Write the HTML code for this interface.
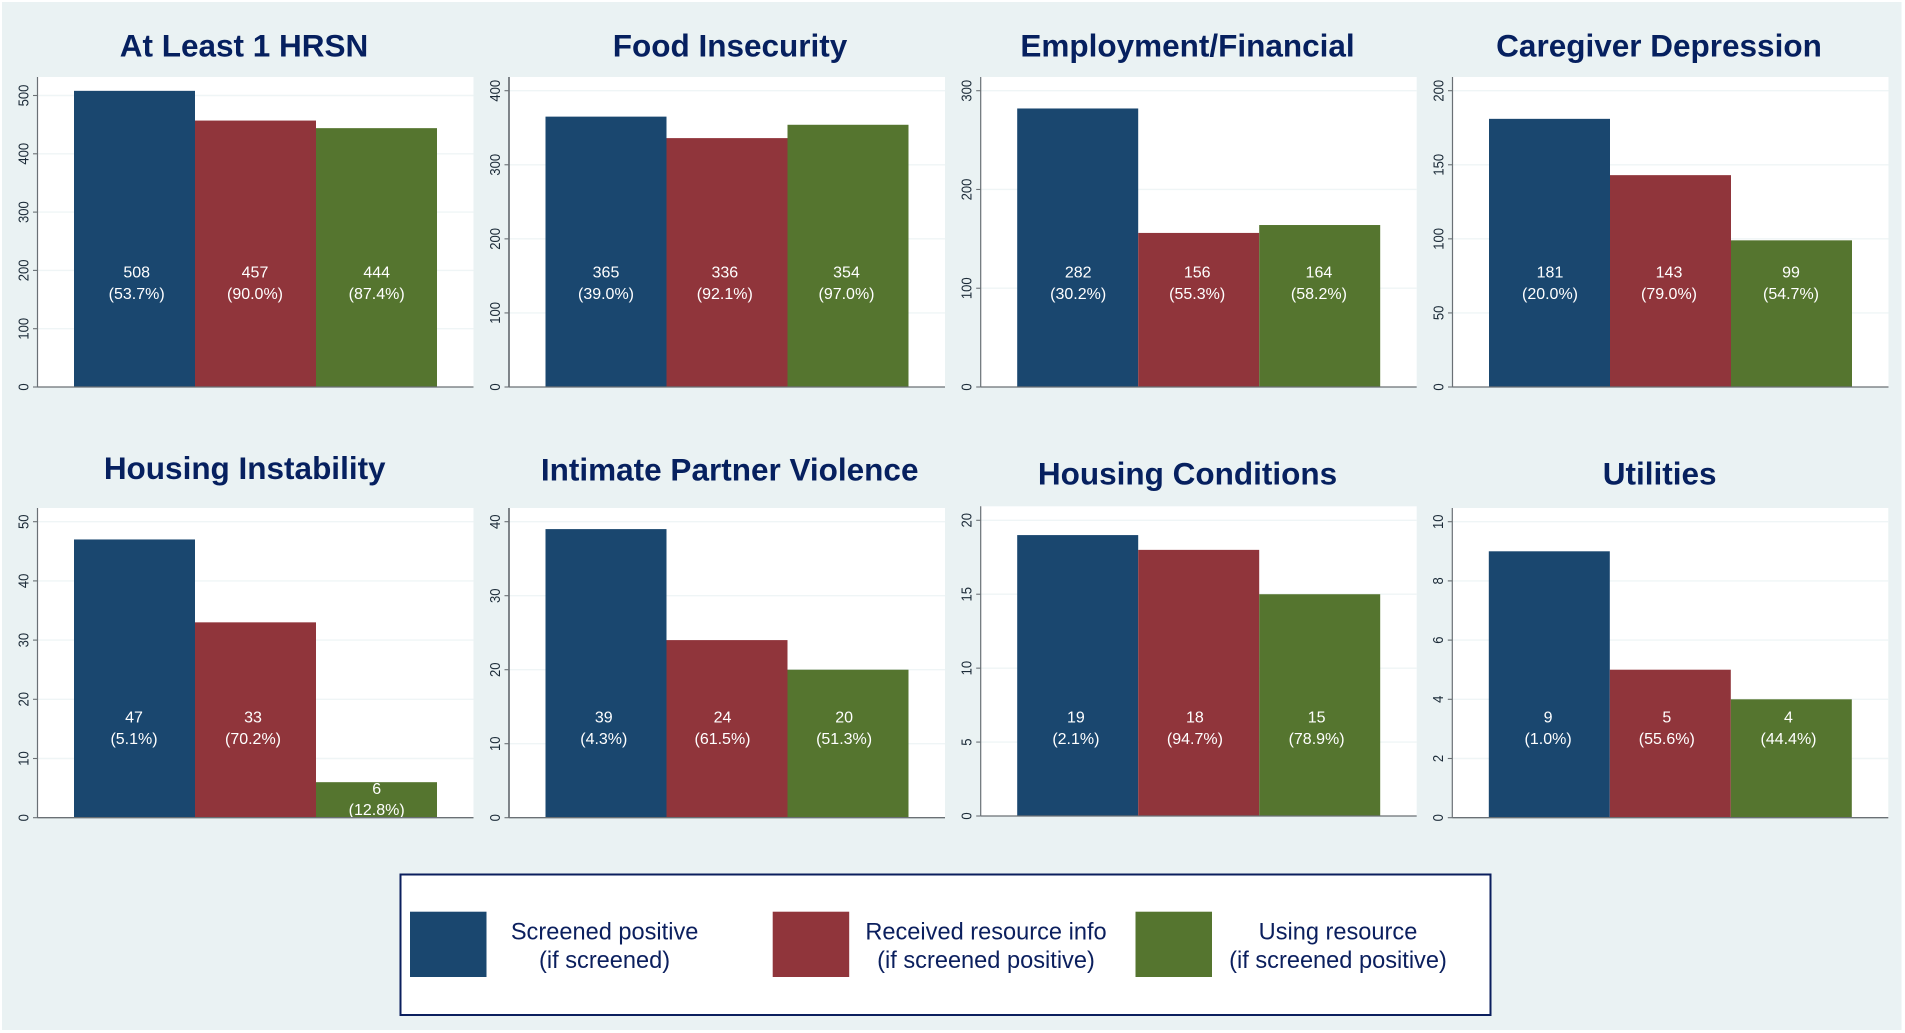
<!DOCTYPE html>
<html lang="en">
<head>
<meta charset="utf-8">
<title>Health-related social needs screening results</title>
<style>
html,body{margin:0;padding:0;background:#fff;width:1905px;height:1033px;overflow:hidden}
svg{display:block;font-family:"Liberation Sans",Arial,sans-serif}
</style>
</head>
<body>
<svg id="figure" width="1905" height="1033" viewBox="0 0 1905 1033" xmlns="http://www.w3.org/2000/svg">
  <rect x="2" y="2" width="1899.5" height="1028" fill="#eaf2f3"/>
  <g id="panels"></g>
  <g>
    <rect x="400.5" y="874.5" width="1090" height="140.5" fill="#fff" stroke="#0b1f5e" stroke-width="2"/>
    <g>
      <rect x="410" y="911.7" width="76.5" height="65.3" fill="#1a476f"/>
      <text text-anchor="middle" font-size="23.6" fill="#0b1f5e"><tspan x="604.6" y="939.3">Screened positive</tspan><tspan x="604.6" y="968">(if screened)</tspan></text>
    </g>
    <g>
      <rect x="772.7" y="911.7" width="76.5" height="65.3" fill="#90353b"/>
      <text text-anchor="middle" font-size="23.6" fill="#0b1f5e"><tspan x="986" y="939.3">Received resource info</tspan><tspan x="986" y="968">(if screened positive)</tspan></text>
    </g>
    <g>
      <rect x="1135.5" y="911.7" width="76.5" height="65.3" fill="#55752f"/>
      <text text-anchor="middle" font-size="23.6" fill="#0b1f5e"><tspan x="1338" y="939.3">Using resource</tspan><tspan x="1338" y="968">(if screened positive)</tspan></text>
    </g>
  </g>
</svg>
<script>
// ---- chart data ----
const panelTitles = ["At Least 1 HRSN", "Food Insecurity", "Employment/Financial", "Caregiver Depression", "Housing Instability", "Intimate Partner Violence", "Housing Conditions", "Utilities"];
const screenedPositive = [508, 365, 282, 181, 47, 39, 19, 9];
const receivedInfo = [457, 336, 156, 143, 33, 24, 18, 5];
const usingResource = [444, 354, 164, 99, 6, 20, 15, 4];
const screenedPct = ["53.7%", "39.0%", "30.2%", "20.0%", "5.1%", "4.3%", "2.1%", "1.0%"];
const receivedPct = ["90.0%", "92.1%", "55.3%", "79.0%", "70.2%", "61.5%", "94.7%", "55.6%"];
const usingPct = ["87.4%", "97.0%", "58.2%", "54.7%", "12.8%", "51.3%", "78.9%", "44.4%"];
const ticks1 = [0, 100, 200, 300, 400, 500];
const ticks2 = [0, 100, 200, 300, 400];
const ticks3 = [0, 100, 200, 300];
const ticks4 = [0, 50, 100, 150, 200];
const ticks5 = [0, 10, 20, 30, 40, 50];
const ticks6 = [0, 10, 20, 30, 40];
const ticks7 = [0, 5, 10, 15, 20];
const ticks8 = [0, 2, 4, 6, 8, 10];
const panelTicks = [ticks1, ticks2, ticks3, ticks4, ticks5, ticks6, ticks7, ticks8];

// ---- page layout (not data) ----
const panelLayout = [
  {axisX: 37.5,   plotTop: 77,    zeroY: 387,   topTickY: 95.5,  titleX: 244,    titleY: 56.7,  labelUp: 109.7, axisW: 1.2, dx: [2.2, -0.5, 0.2]},
  {axisX: 509,    plotTop: 77,    zeroY: 387,   topTickY: 90.7,  titleX: 730,    titleY: 56.7,  labelUp: 109.7, axisW: 1.7, dx: [0, -2.2, -1.5]},
  {axisX: 980.7,  plotTop: 77,    zeroY: 387,   topTickY: 90.7,  titleX: 1187.5, titleY: 56.7,  labelUp: 109.7, axisW: 1.2, dx: [0.5, -1.5, -0.8]},
  {axisX: 1452.5, plotTop: 77,    zeroY: 387,   topTickY: 90.7,  titleX: 1659,   titleY: 56.7,  labelUp: 109.7, axisW: 1.2, dx: [0.5, -1.5, -0.5]},
  {axisX: 37.5,   plotTop: 508,   zeroY: 817.7, topTickY: 521.7, titleX: 244.7,  titleY: 479,   labelUp: 95.3,  axisW: 1.2, dx: [-0.5, -2.5, 0.2]},
  {axisX: 509,    plotTop: 508,   zeroY: 817.7, topTickY: 521.7, titleX: 729.7,  titleY: 480.7, labelUp: 95.3,  axisW: 1.7, dx: [-2.2, -4.5, -3.9]},
  {axisX: 980.7,  plotTop: 506.3, zeroY: 816,   topTickY: 520.3, titleX: 1187.5, titleY: 484.3, labelUp: 93.6,  axisW: 1.2, dx: [-1.8, -3.8, -3.1]},
  {axisX: 1452.3, plotTop: 508,   zeroY: 817.7, topTickY: 521.7, titleX: 1659.7, titleY: 484.3, labelUp: 95.3,  axisW: 1.2, dx: [-1.2, -3.5, -2.8]}
];
const plotWidth = 436;
const barStart = 36.5;
const barWidth = 121;
const seriesKeys = ["screened-positive", "received-resource-info", "using-resource"];
const seriesColors = ["#1a476f", "#90353b", "#55752f"];

const SVG_NS = "http://www.w3.org/2000/svg";
const root = document.getElementById("panels");

function make(tag, parent, attrs, text) {
  const node = document.createElementNS(SVG_NS, tag);
  for (const key in attrs) node.setAttribute(key, attrs[key]);
  if (text !== undefined) node.textContent = text;
  parent.appendChild(node);
  return node;
}

panelTitles.forEach(function (title, p) {
  const box = panelLayout[p];
  const tickValues = panelTicks[p];
  const maxTick = tickValues[tickValues.length - 1];
  const slug = title.toLowerCase().replace(/[^a-z0-9]+/g, "-");
  const yScale = function (v) { return box.zeroY - (v / maxTick) * (box.zeroY - box.topTickY); };
  const xScale = function (i) { return box.axisX + barStart + i * barWidth; };

  const panel = make("g", root, {});
  
  

  const titleEl = make("text", panel, {x: box.titleX, y: box.titleY, "text-anchor": "middle", "font-size": 31.5, "font-weight": "bold", fill: "#06205f"}, title);
  
  

  const plot = make("rect", panel, {x: box.axisX, y: box.plotTop, width: plotWidth, height: box.zeroY - box.plotTop, fill: "#fff"});
  
  

  tickValues.forEach(function (t) {
    const y = yScale(t);
    if (t !== 0) {
      const grid = make("line", panel, {x1: box.axisX, x2: box.axisX + plotWidth, y1: y, y2: y, stroke: "#eff5f6", "stroke-width": 1.4});
      
      
    }
    const tick = make("line", panel, {x1: box.axisX - 4.5, x2: box.axisX, y1: y, y2: y, stroke: "#6a7075", "stroke-width": 1.1});
    
    
    const tickLabel = make("text", panel, {transform: "translate(" + (box.axisX - 9.2) + "," + y + ") rotate(-90) scale(0.87,1)", "text-anchor": "middle", "font-size": 15, fill: "#1c2b38"}, String(t));
    
    
  });

  const values = [screenedPositive[p], receivedInfo[p], usingResource[p]];
  const percents = [screenedPct[p], receivedPct[p], usingPct[p]];

  values.forEach(function (v, i) {
    const top = yScale(v);
    const bar = make("rect", panel, {x: xScale(i), y: top, width: barWidth, height: box.zeroY - top, fill: seriesColors[i]});
    
    
  });

  values.forEach(function (v, i) {
    const top = yScale(v);
    const cx = xScale(i) + barWidth / 2 + box.dx[i];
    // labels sit at a fixed height unless the bar is too short, then they hug the bar top
    let firstBase = box.zeroY - box.labelUp;
    let lineGap = 21.5;
    if (top + 12 > firstBase) {
      firstBase = top + 12;
      lineGap = 20.7;
    }
    const label = make("text", panel, {"text-anchor": "middle", "font-size": 16, fill: "#fff"});
    
    
    make("tspan", label, {x: cx, y: firstBase}, String(v));
    make("tspan", label, {x: cx, y: firstBase + lineGap}, "(" + percents[i] + ")");
  });

  const yAxis = make("line", panel, {x1: box.axisX, x2: box.axisX, y1: box.plotTop, y2: box.zeroY, stroke: "#6a7075", "stroke-width": box.axisW});
  
  

  const xAxis = make("line", panel, {x1: box.axisX, x2: box.axisX + plotWidth, y1: box.zeroY, y2: box.zeroY, stroke: "#6a7075", "stroke-width": 1.3});
  
  
});
</script>
</body>
</html>
